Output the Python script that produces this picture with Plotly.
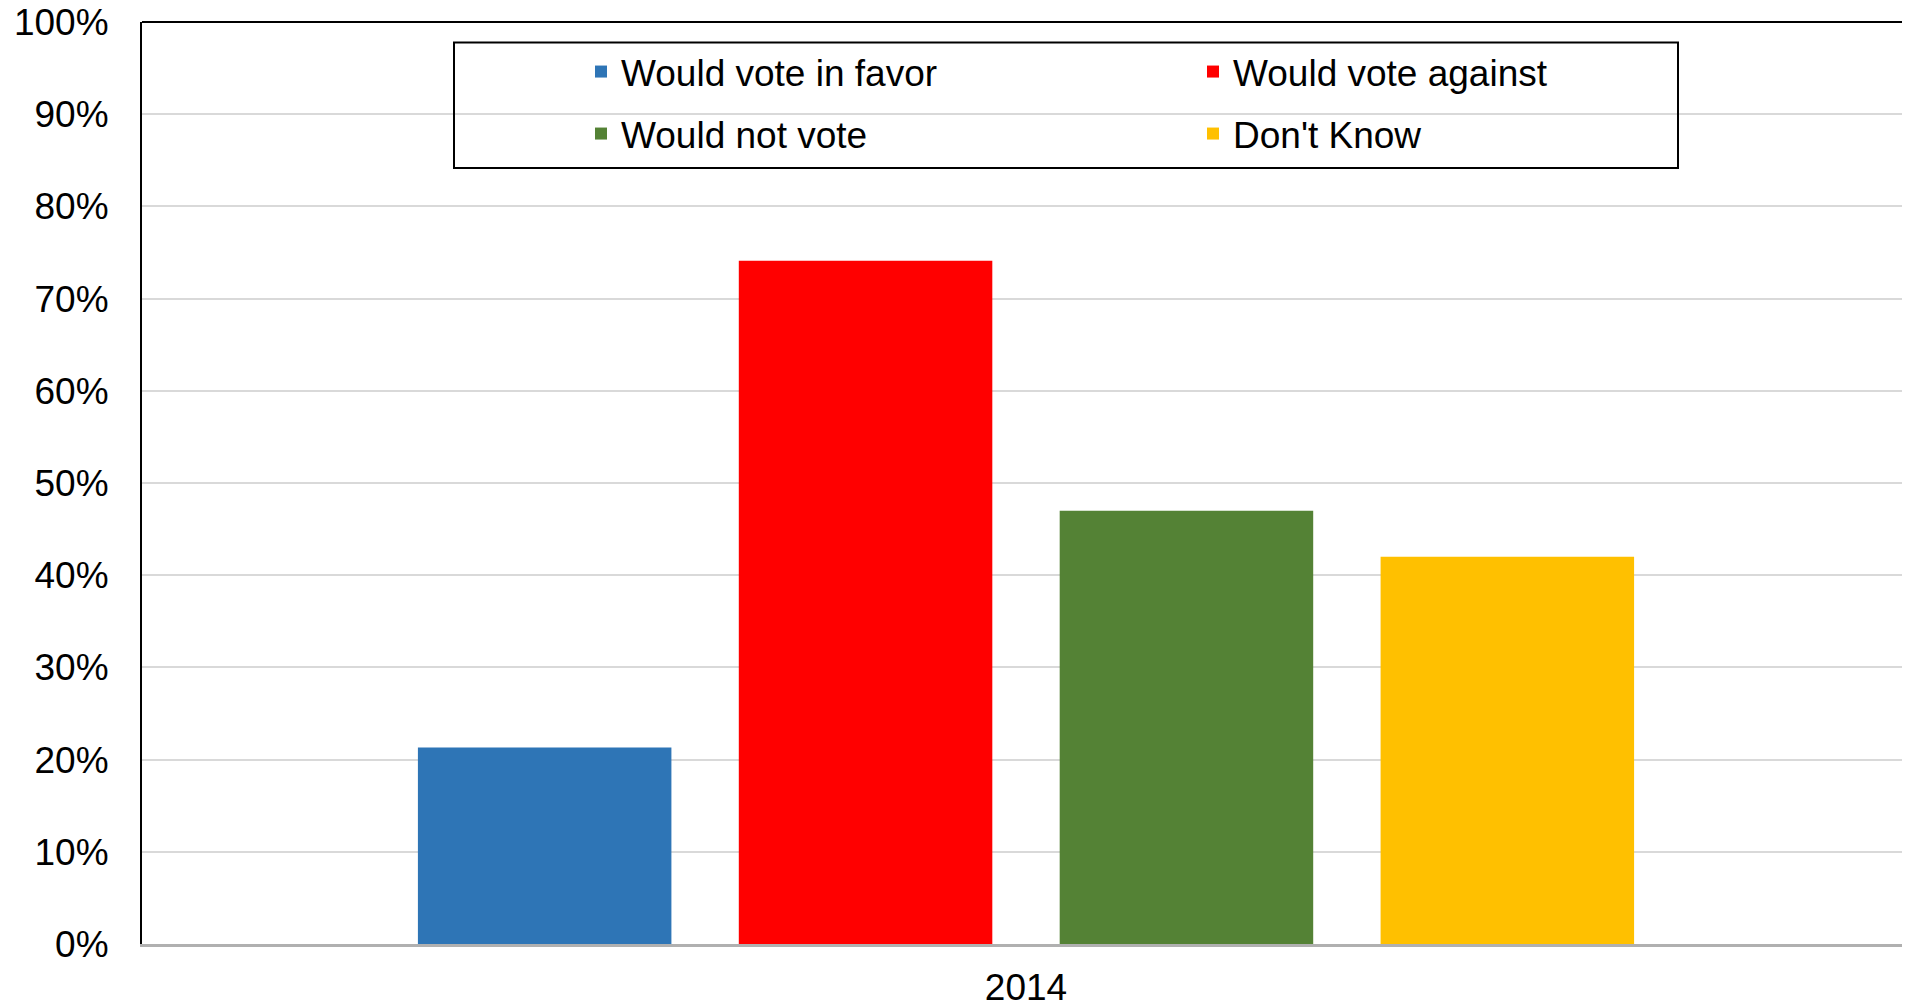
import plotly.graph_objects as go

categories = ["2014"]
series_names = ["Would vote in favor", "Would vote against", "Would not vote", "Don't Know"]
series_values = [[0.213], [0.741], [0.470], [0.420]]
series_colors = ["#2E75B6", "#FF0000", "#548235", "#FFC000"]
legend_groups = ["legend", "legend", "legend2", "legend2"]
y_tickvals = [i / 10 for i in range(11)]
y_ticktext = [f"{i * 10}%" for i in range(11)]

FONT = "Liberation Sans, Arial, sans-serif"
OFF = 8  # default page body margin
W, H = 1910 - OFF, 1004 - OFF
ML, MR, MT, MB = 142 - OFF, 0, 22 - OFF, 60
PW, PH = W - ML - MR, H - MT - MB

def px_x(x):  # page pixel -> paper
    return (x - OFF - ML) / PW

def px_y(y):
    return (H - MB - (y - OFF)) / PH

fig = go.Figure()
for name, vals, col, lg in zip(series_names, series_values, series_colors, legend_groups):
    fig.add_trace(go.Bar(x=categories, y=vals, name=name, marker_color=col,
                         marker_line_width=0, legend=lg))

legend_common = dict(orientation="h", xanchor="left", yanchor="middle",
                     font=dict(family=FONT, size=37, color="#000000"),
                     bgcolor="rgba(0,0,0,0)", borderwidth=0,
                     entrywidth=567, entrywidthmode="pixels", traceorder="normal")

fig.update_layout(
    width=W, height=H,
    margin=dict(l=ML, r=MR, t=MT, b=MB, autoexpand=False),
    paper_bgcolor="#FFFFFF", plot_bgcolor="#FFFFFF",
    barmode="group", bargap=0.274, bargroupgap=0.21,
    font=dict(family=FONT, size=37, color="#000000"),
    legend=dict(x=px_x(581), y=px_y(72), **legend_common),
    legend2=dict(x=px_x(581), y=px_y(134), **legend_common),
    xaxis=dict(showline=True, linecolor="#B0B0B0", linewidth=3,
               showgrid=False, ticks="", ticklabelstandoff=9,
               automargin=False, ticklabeloverflow="allow",
               tickfont=dict(family=FONT, size=37, color="#000000")),
    yaxis=dict(range=[0, 1], tickvals=y_tickvals, ticktext=y_ticktext,
               showgrid=True, gridcolor="#D9D9D9", gridwidth=2,
               showline=True, linecolor="#000000", linewidth=2,
               zeroline=False, ticks="", ticklabelstandoff=24,
               automargin=False, ticklabeloverflow="allow",
               tickfont=dict(family=FONT, size=37, color="#000000")),
    shapes=[
        dict(type="line", xref="paper", yref="paper", x0=0, x1=1, y0=1, y1=1,
             line=dict(color="#000000", width=2)),
        dict(type="rect", xref="paper", yref="paper",
             x0=px_x(454), x1=px_x(1678), y0=px_y(168), y1=px_y(42.6),
             line=dict(color="#000000", width=2), fillcolor="rgba(0,0,0,0)"),
    ],
)

fig.write_html("out.html")
